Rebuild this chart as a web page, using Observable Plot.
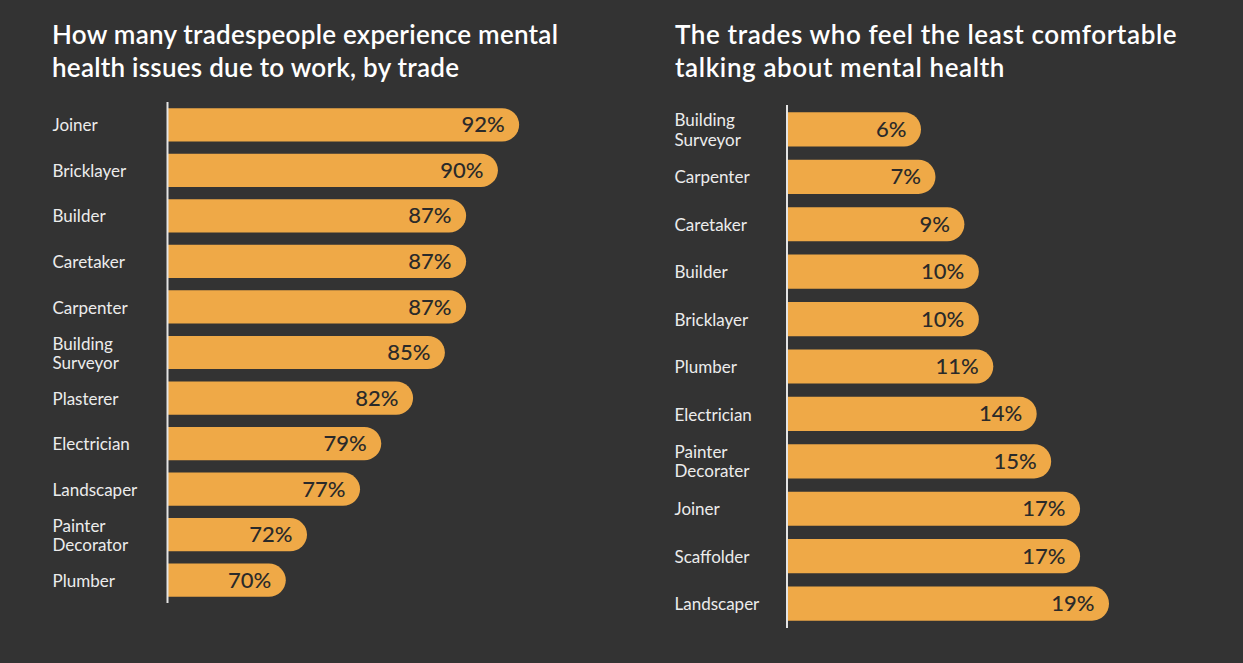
<!DOCTYPE html>
<html>
<head>
<meta charset="utf-8">
<script src="https://cdn.jsdelivr.net/npm/d3@7"></script>
<script src="https://cdn.jsdelivr.net/npm/@observablehq/plot@0.6"></script>
<style>
  html, body { margin: 0; padding: 0; background: #333333; }
  #root { position: relative; width: 1243px; height: 663px; overflow: hidden; font-family: Lato, "Open Sans", sans-serif; }
  .title { position: absolute; color: #ffffff; font-size: 26px; font-weight: 600; line-height: 33px; white-space: nowrap; }
  #root svg { position: absolute; top: 0; }
</style>
</head>
<body>
<div id="root"></div>
<script>
// ---- Data ----
const leftTitle = ["How many tradespeople experience mental", "health issues due to work, by trade"];
const leftTrades = ["Joiner", "Bricklayer", "Builder", "Caretaker", "Carpenter", "Building\nSurveyor", "Plasterer", "Electrician", "Landscaper", "Painter\nDecorator", "Plumber"];
const leftValues = [92, 90, 87, 87, 87, 85, 82, 79, 77, 72, 70];

const rightTitle = ["The trades who feel the least comfortable", "talking about mental health"];
const rightTrades = ["Building\nSurveyor", "Carpenter", "Caretaker", "Builder", "Bricklayer", "Plumber", "Electrician", "Painter\nDecorater", "Joiner", "Scaffolder", "Landscaper"];
const rightValues = [6, 7, 9, 10, 10, 11, 14, 15, 17, 17, 19];

const barColor = "#EFA947";
const fontFamily = "Lato, 'Open Sans', sans-serif";

function chart(o) {
  const data = o.trades.map((t, i) => ({trade: t, value: o.values[i]}));
  const base = o.xDomain[0] - (o.xDomain[1] - o.xDomain[0]);
  const svg = Plot.plot({
    width: o.width,
    height: 663,
    marginLeft: o.marginLeft,
    marginRight: o.marginRight,
    marginTop: o.marginTop,
    marginBottom: o.marginBottom,
    style: {background: "transparent", fontFamily, overflow: "visible"},
    x: {domain: o.xDomain, axis: null},
    y: {domain: o.trades, axis: null, paddingInner: o.padIn, paddingOuter: o.padOut, round: false},
    marks: [
      Plot.barX(data, {y: "trade", x1: () => base, x2: "value", fill: barColor, rx: 17, clip: true}),
      Plot.ruleX([o.xDomain[0]], {stroke: "#e4e4e4", strokeWidth: 2}),
      Plot.text(data, {
        y: "trade", text: "trade", frameAnchor: "left", textAnchor: "start",
        dx: o.labelDx, fill: "#ececec", fontSize: 17, lineHeight: 1.12
      }),
      Plot.text(data, {
        y: "trade", x: "value", text: d => d.value + "%", textAnchor: "end",
        dx: -15, fill: "#2a2a2a", fontSize: 22, fontWeight: 500
      })
    ]
  });
  svg.style.left = o.left + "px";
  return svg;
}

const root = document.getElementById("root");

function addTitle(lines, left, top, spacing) {
  const div = document.createElement("div");
  div.className = "title";
  div.style.left = left + "px";
  div.style.top = top + "px";
  div.style.letterSpacing = spacing + "px";
  lines.forEach((l, i) => {
    if (i) div.appendChild(document.createElement("br"));
    div.appendChild(document.createTextNode(l));
  });
  root.appendChild(div);
}

root.appendChild(chart({
  trades: leftTrades, values: leftValues,
  width: 621, left: 0,
  marginLeft: 167, marginRight: 17, marginTop: 102, marginBottom: 60,
  xDomain: [58.8, 100], padIn: 0.27, padOut: 0.135, labelDx: -115
}));

root.appendChild(chart({
  trades: rightTrades, values: rightValues,
  width: 622, left: 621,
  marginLeft: 165.5, marginRight: 96.4, marginTop: 105, marginBottom: 35,
  xDomain: [-3.3, 21.6], padIn: 0.28, padOut: 0.155, labelDx: -112.5
}));

addTitle(leftTitle, 52, 18, 0.25);
addTitle(rightTitle, 675, 18, 0.6);
</script>
</body>
</html>
